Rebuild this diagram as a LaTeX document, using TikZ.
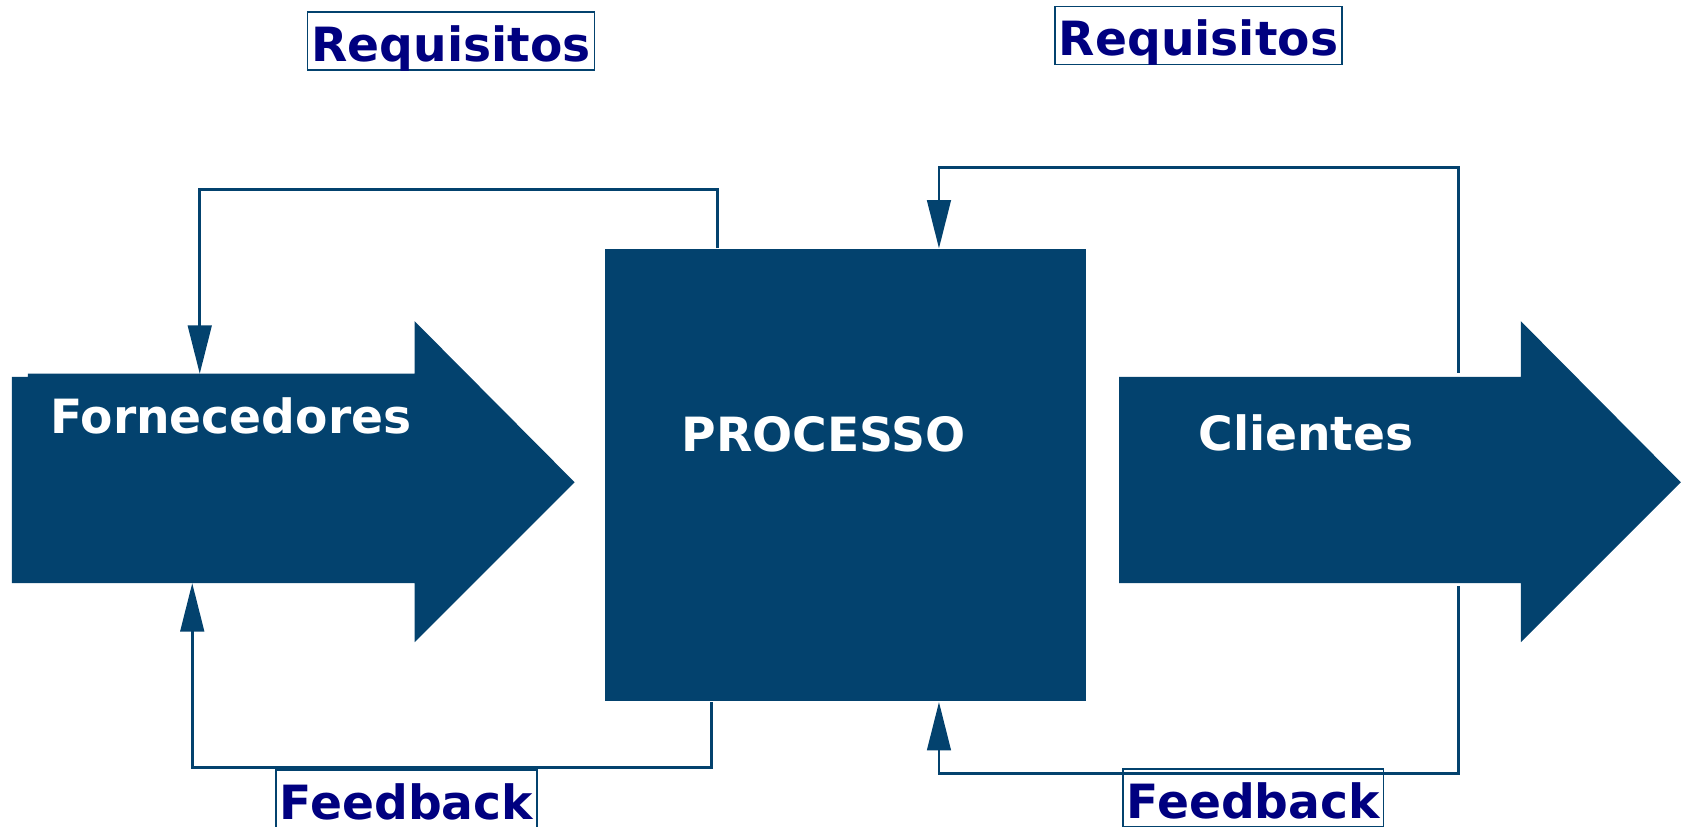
\documentclass[tikz,border=0pt]{standalone}
\usepackage{fontspec}
\setmainfont{DejaVu Sans}
\usetikzlibrary{arrows.meta,positioning}
\definecolor{azul}{RGB}{3,66,110}
\definecolor{marinho}{RGB}{0,0,128}
\tikzstyle{bloco}=[rectangle,fill=azul,draw=none,inner sep=0pt]
\tikzstyle{titulo}=[text=white,font=\fontsize{12.5}{15}\selectfont\bfseries,inner sep=0pt]
\tikzstyle{rotulo}=[rectangle,draw=azul,thin,text=marinho,font=\fontsize{12.5}{15}\selectfont\bfseries,inner xsep=1pt,inner ysep=0.5pt,text height=12.6pt,text depth=1.8pt]
\tikzstyle{fluxo}=[-{Triangle[length=4.5mm,width=2.2mm]},draw=azul,line width=0.7pt]

\begin{document}
\begin{tikzpicture}[x=0.1mm,y=-0.1mm]
    \useasboundingbox (0,0) rectangle (1568,770);

    % Setas
    \fill[azul] (11,351) -- (26,351) -- (26,348) -- (386,348) -- (386,299) -- (535,449)
        -- (386,598) -- (386,543) -- (11,543) -- cycle;
    \fill[azul] (1042,351) -- (1416,351) -- (1416,299) -- (1565,449) -- (1416,598)
        -- (1416,543) -- (1042,543) -- cycle;
    \coordinate (fornTopo) at (186,348);
    \coordinate (fornBase) at (179,543);
    \coordinate (cliTopo) at (1358,347);
    \coordinate (cliBase) at (1358,546);

    % Knoten
    \node[bloco, minimum width=4.48cm, minimum height=4.21cm] (proc) at (787,442.5) {};
    \node[titulo] (forn) at (215,387) {Fornecedores};
    \node[titulo] (proctxt) at (767,404) {PROCESSO};
    \node[titulo] (cli) at (1216,403) {Clientes};

    % Requisitos / Feedback
    \draw [fluxo] ([xshift=1.06cm]proc.north west) -- ++(0,-55) -| (fornTopo);
    \draw [fluxo] ([xshift=1.00cm]proc.south west) -- ++(0,61) -| (fornBase);
    \draw [fluxo] (cliTopo) -- ++(0,-191) -| ([xshift=3.12cm]proc.north west);
    \draw [fluxo] (cliBase) -- ++(0,174) -| ([xshift=3.12cm]proc.south west);

    \node[rotulo] (req1) at (420,38) {Requisitos};
    \node[rotulo] (req2) at (1116,33) {Requisitos};
    \node[rotulo] (fb1) at (378.5,744) {Feedback};
    \node[rotulo] (fb2) at (1167,743) {Feedback};

\end{tikzpicture}
\end{document}
